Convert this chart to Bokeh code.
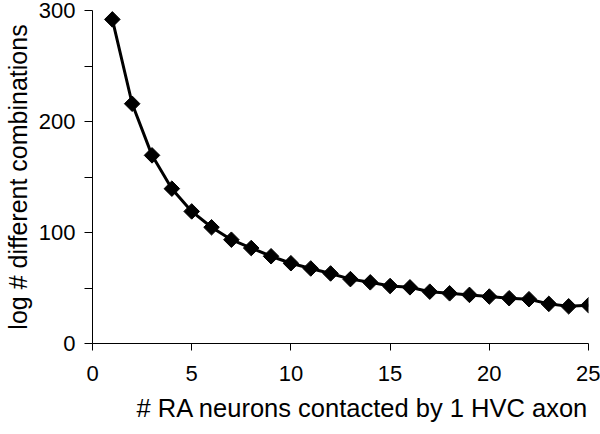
import numpy as np
from bokeh.plotting import figure
from bokeh.models import Range1d, FixedTicker, Title
from bokeh.embed import file_html
from bokeh.resources import INLINE

n_neurons = list(range(1, 26))
log_combinations = [292, 216, 169.5, 139.5, 119, 104.7, 93.5, 86, 78.6, 72.3,
                    67.6, 63.1, 58, 55.1, 51.8, 50.6, 46.7, 45.2, 43.8, 42.3,
                    40.8, 39.9, 35.7, 33.5, 34.5]
x_ticks = [0, 5, 10, 15, 20, 25]
y_ticks = [0, 100, 200, 300]
x_title = "# RA neurons contacted by 1 HVC axon"
y_title = "log # different combinations"

FONT = "Liberation Sans"

p = figure(width=600, height=434, output_backend="svg", toolbar_location=None,
           x_range=Range1d(0, 25), y_range=Range1d(0, 300),
           min_border_left=86, min_border_right=12, min_border_top=10, min_border_bottom=91)
p.outline_line_color = None
p.xgrid.grid_line_color = None
p.ygrid.grid_line_color = None
p.background_fill_color = "white"
p.border_fill_color = "white"

p.line(n_neurons, log_combinations, line_color="black", line_width=3)
p.scatter(n_neurons, log_combinations, marker="square", angle=np.pi / 4, size=11,
          fill_color="black", line_color="black")

xa = p.xaxis[0]
xa.ticker = FixedTicker(ticks=x_ticks)
xa.major_label_text_font = FONT
xa.major_label_text_font_size = "22px"
xa.major_label_text_color = "black"
xa.major_label_standoff = 15
xa.major_tick_in = 0
xa.major_tick_out = 7
xa.minor_tick_line_color = None
xa.axis_line_color = "black"
xa.major_tick_line_color = "black"

t = Title(text=x_title, align="left", offset=44, standoff=16,
          text_font=FONT, text_font_size="25.5px", text_font_style="normal",
          text_color="black")
p.add_layout(t, "below")

ya = p.yaxis[0]
ya.ticker = FixedTicker(ticks=y_ticks, minor_ticks=[50, 150, 250])
ya.axis_label = y_title
ya.axis_label_text_font = FONT
ya.axis_label_text_font_size = "25px"
ya.axis_label_text_font_style = "normal"
ya.axis_label_text_color = "black"
ya.axis_label_standoff = 4
ya.major_label_text_font = FONT
ya.major_label_text_font_size = "22px"
ya.major_label_text_color = "black"
ya.major_label_standoff = 9
ya.major_tick_in = 0
ya.major_tick_out = 8
ya.minor_tick_in = 0
ya.minor_tick_out = 8
ya.minor_tick_line_color = "black"
ya.axis_line_color = "black"
ya.major_tick_line_color = "black"

open("out.html", "w").write(file_html(p, INLINE))
